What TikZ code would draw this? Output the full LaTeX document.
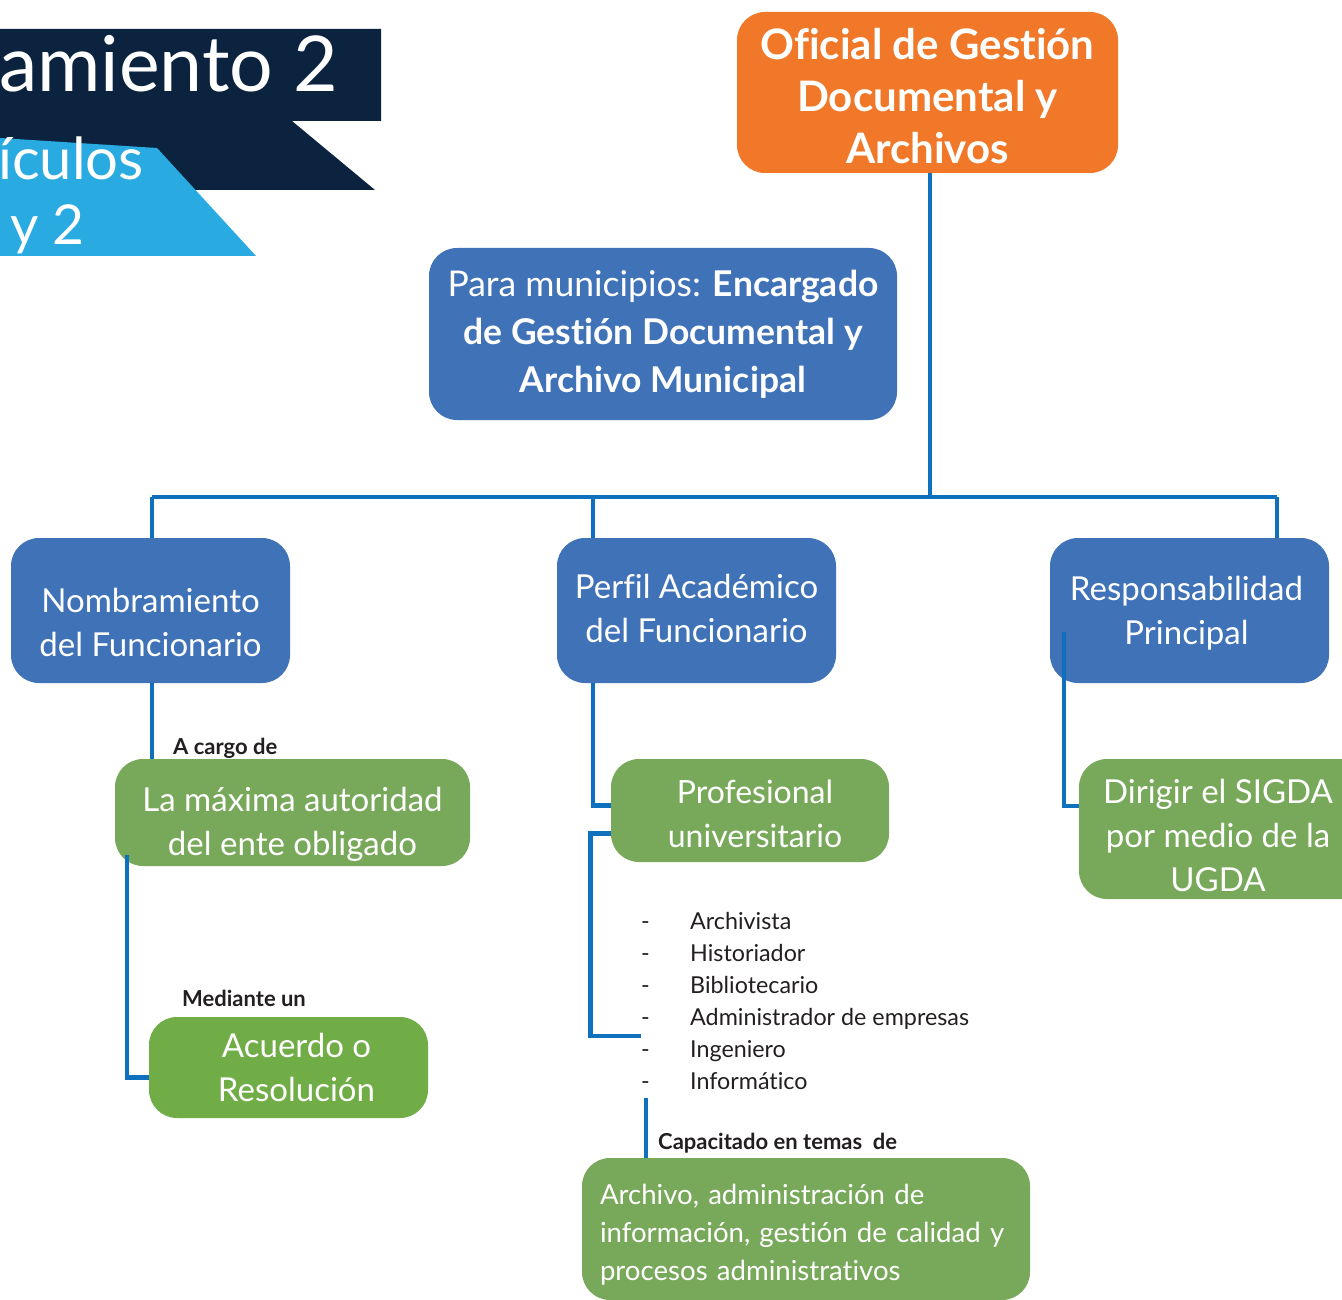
\documentclass[tikz,border=0pt]{standalone}
\usepackage{fontspec}
\setmainfont{Lato}[Ligatures=NoCommon]
\usetikzlibrary{calc}
\definecolor{navy}{HTML}{0B233F}
\definecolor{sky}{HTML}{29ABE2}
\definecolor{boxorange}{HTML}{F07828}
\definecolor{boxblue}{HTML}{4072B8}
\definecolor{boxgreen}{HTML}{78A95A}
\definecolor{brightgreen}{HTML}{70AD47}
\definecolor{linkblue}{HTML}{0F70BE}
\definecolor{ink}{HTML}{231F20}
\newcommand{\fs}[2]{\fontsize{#1}{#2}\selectfont}
\begin{document}
\begin{tikzpicture}[x=1pt,y=-1pt,
  card/.style={rounded corners=28pt, inner sep=0pt},
  cardtext/.style={text=white, align=center, inner sep=0pt, font=\fs{33}{44}},
  link/.style={draw=linkblue, line width=4.8pt},
  tag/.style={anchor=base west, inner sep=0pt, text=ink, font=\bfseries\fs{22}{26}},
  item/.style={anchor=base west, inner sep=0pt, text=ink, font=\fs{23.3}{32}}]
\useasboundingbox (0,0) rectangle (1342,1300);
\fill[white] (0,0) rectangle (1342,1300);

% title banner
\fill[navy] (0,29) -- (381,29) -- (381,121) -- (292,121) -- (375,190) -- (0,190) -- cycle;
\fill[sky] (0,138) -- (157,148) -- (256,256) -- (0,256) -- cycle;
\node[anchor=base east, inner sep=0pt, text=white, font=\fs{77}{88}] (ttl) at (338,92) {amiento 2};
\node[anchor=base west, inner sep=0pt, text=white, font=\fs{58}{66}] (ttl2) at (-2,180) {ículos};
\node[anchor=base west, inner sep=0pt, text=white, font=\fs{55}{62}] (ttl3) at (10,245) {y 2};

% boxes
\node[card, fill=boxorange, minimum width=381pt, minimum height=161pt] (ofic) at (927.5,92.5) {};
\node[card, fill=boxblue, minimum width=468pt, minimum height=172pt] (muni) at (663,334) {};
\node[card, fill=boxblue, minimum width=279pt, minimum height=145pt] (nomb) at (150.5,610.5) {};
\node[card, fill=boxblue, minimum width=279pt, minimum height=145pt] (perf) at (696.5,610.5) {};
\node[card, fill=boxblue, minimum width=279pt, minimum height=145pt] (resp) at (1189.5,610.5) {};
\node[card, fill=boxgreen, minimum width=355pt, minimum height=107pt] (maxa) at (292.5,812.5) {};
\node[card, fill=brightgreen, minimum width=279pt, minimum height=101pt] (acu) at (288.5,1067.5) {};
\node[card, fill=boxgreen, minimum width=278pt, minimum height=103pt] (prof) at (750,810.5) {};
\node[card, fill=boxgreen, minimum width=300pt, minimum height=140pt] (dir) at (1229,829) {};
\node[card, fill=boxgreen, minimum width=448pt, minimum height=142pt] (cap) at (806,1229) {};

% box texts
\node[cardtext, font=\bfseries\fs{42}{52}] (ofict) at ($(ofic)+(0,4)$) {Oficial de Gestión\\Documental y\\Archivos};
\node[cardtext, font=\fs{35.5}{48}] (munit) at (muni) {Para municipios: \textbf{Encargado}\\\textbf{de Gestión Documental y}\\\textbf{Archivo Municipal}};
\node[cardtext] (nombt) at ($(nomb)+(0,12)$) {Nombramiento\\del Funcionario};
\node[cardtext] (perft) at ($(perf)+(0,-2)$) {Perfil Académico\\del Funcionario};
\node[cardtext] (respt) at ($(resp)+(-3,3)$) {Responsabilidad\\Principal};
\node[cardtext] (maxat) at ($(maxa)+(0,12)$) {La máxima autoridad\\del ente obligado};
\node[cardtext] (acut) at ($(acu)+(8,0)$) {Acuerdo o\\Resolución};
\node[cardtext, font=\fs{32}{44}] (proft) at ($(prof)+(5,3)$) {Profesional\\universitario};
\node[cardtext] (dirt) at ($(dir)+(-11,6)$) {Dirigir el SIGDA\\por medio de la\\UGDA};
\node[cardtext, align=left, font=\fs{27.6}{38}, text width=412pt] (capt) at ($(cap)+(0,6)$) {Archivo, administración de\\información, gestión de calidad y\\procesos administrativos};

% labels on the links
\node[tag] (lab1) at (173,754) {A cargo de};
\node[tag] (lab2) at (182,1006) {Mediante un};
\node[tag] (lab3) at (658,1149) {Capacitado en temas\ \ de};

% list of professions
\foreach \t [count=\i] in {Archivista,Historiador,Bibliotecario,Administrador de empresas,Ingeniero,Informático}
  \node[item] (li\i) at (641,{897+32*\i}) {\makebox[49pt][l]{-}\t};

% connectors
\coordinate (d1) at (152,497);
\coordinate (d2) at (593,497);
\coordinate (d3) at (1277,497);
\coordinate (top) at (930,173);
\coordinate (j1) at (127,855);
\coordinate (m2) at (641,1036);
\coordinate (m3) at (646,1098);
\coordinate (r1) at (1064,632);
\draw[link] (top) -- (top |- d1);
\draw[link] ($(muni.east)+(0,11)$) -- ($(muni.east)+(0,11)$ -| top);
\draw[link] (d1) -- (d3);
\draw[link] (d1) -- (d1 |- nomb.north);
\draw[link] (d2) -- (d2 |- perf.north);
\draw[link] (d3) -- (d3 |- resp.north);
\draw[link] (nomb.south -| d1) -- (d1 |- maxa.north);
\draw[link] (j1) |- ($(acu.west)+(0,10)$);
\draw[link] (perf.south -| d2) |- ($(prof.west)+(0,-5)$);
\draw[link] ($(prof.west)+(0,23)$) -- ++(-20,0) |- (m2);
\draw[link] (m3) -- (m3 |- cap.north);
\draw[link] (r1) |- ($(dir.west)+(0,-23)$);
\end{tikzpicture}
\end{document}
